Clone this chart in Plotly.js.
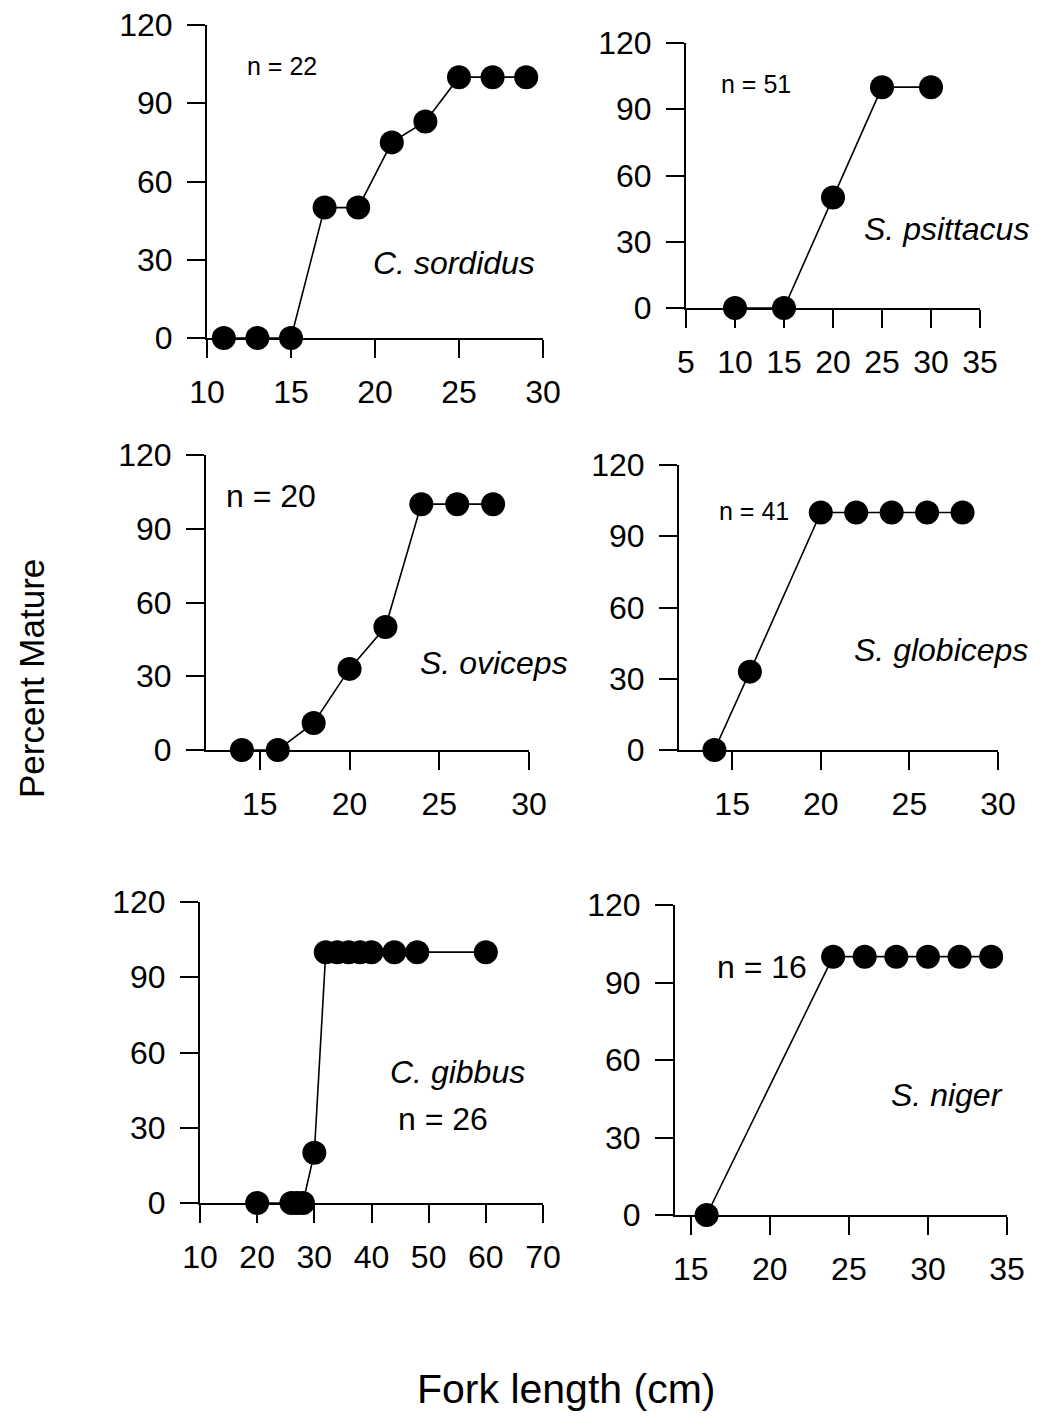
<!DOCTYPE html>
<html>
<head>
<meta charset="utf-8">
<script src="https://cdn.plot.ly/plotly-3.0.1.min.js"></script>
<style>
html,body{margin:0;padding:0;background:#fff;}
#chart{width:1040px;height:1416px;}
</style>
</head>
<body>
<div id="chart"></div>
<script>
// ---- Data (fork length in cm, percent mature) ----
const sordidusX = [11, 13, 15, 17, 19, 21, 23, 25, 27, 29];
const sordidusY = [0, 0, 0, 50, 50, 75, 83, 100, 100, 100];
const psittacusX = [10, 15, 20, 25, 30];
const psittacusY = [0, 0, 50, 100, 100];
const ovicepsX = [14, 16, 18, 20, 22, 24, 26, 28];
const ovicepsY = [0, 0, 11, 33, 50, 100, 100, 100];
const globicepsX = [14, 16, 20, 22, 24, 26, 28];
const globicepsY = [0, 33, 100, 100, 100, 100, 100];
const gibbusX = [20, 26, 27, 28, 30, 32, 34, 36, 38, 40, 44, 48, 60];
const gibbusY = [0, 0, 0, 0, 20, 100, 100, 100, 100, 100, 100, 100, 100];
const nigerX = [16, 24, 26, 28, 30, 32, 34];
const nigerY = [0, 100, 100, 100, 100, 100, 100];

const speciesNames = ["C. sordidus", "S. psittacus", "S. oviceps", "S. globiceps", "C. gibbus", "S. niger"];
const sampleSizes = ["n = 22", "n = 51", "n = 20", "n = 41", "n = 26", "n = 16"];

const yTicks = [0, 30, 60, 90, 120];
const xTicks1 = [10, 15, 20, 25, 30];
const xTicks2 = [5, 10, 15, 20, 25, 30, 35];
const xTicks3 = [15, 20, 25, 30];
const xTicks4 = [15, 20, 25, 30];
const xTicks5 = [10, 20, 30, 40, 50, 60, 70];
const xTicks6 = [15, 20, 25, 30, 35];

const yLabel = "Percent Mature";
const xLabel = "Fork length (cm)";

// ---- Layout geometry (pixels) ----
const W = 1040, H = 1416;
const panels = [
  {x: sordidusX, y: sordidusY, xr: [10, 30], xt: xTicks1, box: [207, 543, 25, 338]},
  {x: psittacusX, y: psittacusY, xr: [5, 35], xt: xTicks2, box: [686, 980, 43, 308]},
  {x: ovicepsX, y: ovicepsY, xr: [12, 30], xt: xTicks3, box: [206, 529, 455, 750]},
  {x: globicepsX, y: globicepsY, xr: [12, 30], xt: xTicks4, box: [679, 998, 465, 750]},
  {x: gibbusX, y: gibbusY, xr: [10, 70], xt: xTicks5, box: [200, 543, 902, 1203]},
  {x: nigerX, y: nigerY, xr: [14, 35], xt: xTicks6, box: [675, 1007, 905, 1215]}
];

const FONT = "Liberation Sans, Arial, sans-serif";
const fx = p => p / W;
const fy = p => 1 - p / H;

const traces = [];
const layout = {
  width: W, height: H,
  margin: {l: 0, r: 0, t: 0, b: 0},
  paper_bgcolor: "#fff", plot_bgcolor: "rgba(0,0,0,0)",
  showlegend: false,
  font: {family: FONT, color: "#000"},
  annotations: []
};

panels.forEach((p, i) => {
  const k = i === 0 ? "" : String(i + 1);
  traces.push({
    type: "scatter", mode: "lines+markers",
    x: p.x, y: p.y,
    xaxis: "x" + k, yaxis: "y" + k,
    line: {color: "#000", width: 1.6},
    marker: {color: "#000", size: 24},
    cliponaxis: false,
    hoverinfo: "skip"
  });
  const [x0, x1, y0, y1] = p.box;
  layout["xaxis" + k] = {
    domain: [fx(x0), fx(x1)], range: p.xr, anchor: "y" + k,
    tickmode: "array", tickvals: p.xt,
    ticks: "outside", ticklen: 18, tickwidth: 2, tickcolor: "#000",
    showline: true, linewidth: 2, linecolor: "#000",
    showgrid: false, zeroline: false,
    tickfont: {family: FONT, size: 32, color: "#000"},
    ticklabelstandoff: 7,
    fixedrange: true
  };
  layout["yaxis" + k] = {
    domain: [fy(y1), fy(y0)], range: [0, 120], anchor: "x" + k,
    tickmode: "array", tickvals: yTicks,
    ticks: "outside", ticklen: 18, tickwidth: 2, tickcolor: "#000",
    showline: true, linewidth: 2, linecolor: "#000",
    showgrid: false, zeroline: false,
    tickfont: {family: FONT, size: 32, color: "#000"},
    ticklabelstandoff: 8,
    fixedrange: true
  };
});

// species labels (center positions in px)
const speciesPos = [[454, 263], [946, 229], [494, 663], [941, 650], [457, 1072], [947, 1095]];
speciesPos.forEach((pos, i) => {
  layout.annotations.push({
    xref: "paper", yref: "paper", x: fx(pos[0]), y: fy(pos[1]),
    xanchor: "center", yanchor: "middle", showarrow: false,
    text: speciesNames[i],
    font: {family: FONT, size: 32, color: "#000", style: "italic"}
  });
});
const nPos = [[282, 66, 25], [756, 84, 25], [271, 496, 32], [754, 511, 25], [443, 1119, 32], [762, 967, 32]];
nPos.forEach((pos, i) => {
  layout.annotations.push({
    xref: "paper", yref: "paper", x: fx(pos[0]), y: fy(pos[1]),
    xanchor: "center", yanchor: "middle", showarrow: false,
    text: sampleSizes[i],
    font: {family: FONT, size: pos[2], color: "#000"}
  });
});
layout.annotations.push({
  xref: "paper", yref: "paper", x: fx(31), y: fy(679),
  xanchor: "center", yanchor: "middle", showarrow: false, textangle: -90,
  text: yLabel, font: {family: FONT, size: 35, color: "#000"}
});
layout.annotations.push({
  xref: "paper", yref: "paper", x: fx(566), y: fy(1389),
  xanchor: "center", yanchor: "middle", showarrow: false,
  text: xLabel, font: {family: FONT, size: 41, color: "#000"}
});

Plotly.newPlot("chart", traces, layout, {staticPlot: true, displayModeBar: false});
</script>
</body>
</html>
